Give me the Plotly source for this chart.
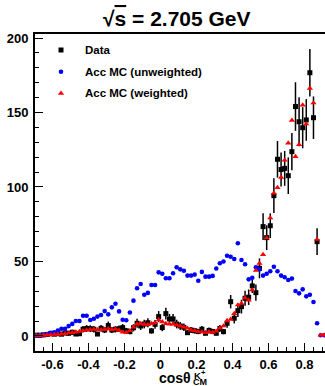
import numpy as np
import plotly.graph_objects as go

# ---- data (bin centres, width 0.02) ----
bin_centers = np.round(np.arange(-0.69, 0.92, 0.02), 2)

data_vals = [0.5, 0.5, 0.7, 1, 1.5, 1.2, 1.5, 1.2, 2, 1.8, 2.5, 1.3, 1.5, 4.5, 5, 4.9, 4.5, 1.3, 5.1, 4,
             7, 4, 4.5, 4.8, 5.6, 3.5, 2.9, 5.5, 8.5, 6.7, 8, 8.9, 3.4, 7.8, 13, 5.6, 15, 11.4, 11.4, 8,
             6.7, 5.8, 2.2, 4, 3.5, 3, 4.5, 1.8, 3.7, 3, 1.8, 5, 2.9, 8.5, 23, 11.9, 17, 19.7, 25.3, 26,
             33.6, 29.1, 45.4, 73.4, 66, 74, 94.2, 118.6, 111.7, 112.5, 107.6, 123.7, 154, 143.8, 139.8, 145, 176.7, 146.5, 63.3, None,
             None]
data_err = [0.8, 0.8, 1, 1, 1.3, 1.2, 1.3, 1.2, 1.5, 1.5, 1.7, 1.2, 1.3, 2.2, 2.3, 2.3, 2.2, 1.2, 2.3, 2,
            2.7, 2, 2.2, 2.2, 2.4, 1.9, 1.8, 2.4, 3, 2.7, 2.9, 3, 1.9, 2.9, 3.7, 2.4, 3.9, 3.4, 3.4, 2.9,
            2.6, 2.5, 1.5, 2, 1.9, 1.8, 2.2, 1.4, 2, 1.8, 1.4, 2.3, 1.8, 3, 4.5, 3.5, 4.3, 4.6, 5, 5.2,
            4.8, 5.5, 6.7, 9, 8.3, 8.3, 11.6, 12.3, 11.4, 11.7, 12.3, 12.5, 16.3, 16.5, 13.8, 14, 15.9, 14.3, 9, 0,
            0]
mc_unweighted = [0.3, 0.3, 0.7, 1.3, 2.2, 2.5, 3.6, 4.8, 4.8, 6.6, 8.1, 10, 10, 13.6, 13.6, 10.7, 11.5, 13, 14.1, 16.7,
                 14.5, 19.2, 21.6, 16.5, 10.9, 10.5, 15.7, 23.7, 32, 34.9, 27.7, 28.9, 34.2, 34.2, 42.7, 41.8, 38.7, 38.7, 42.1, 46.1,
                 44.7, 43.8, 40.5, 40.5, 41.2, 37.1, 43, 39.8, 39.8, 40.3, 45.3, 48.8, 50, 53.8, 53.2, 51.7, 62.2, 51, 48.1, 38,
                 39.1, 46.1, 44.7, 40.5, 41.8, 43.4, 46.5, 43.4, 40.5, 39.4, 37.6, 38.5, 30.2, 28.6, 31.3, 26.6, 27.7, 22.8, 8.5, 0.5,
                 0.5]
mc_weighted = [0.3, 0.3, 0.5, 0.6, 0.8, 1, 1.1, 1.3, 1.6, 2, 2.3, 2.6, 3, 3.5, 4, 4.2, 4.5, 4.2, 4.2, 4.5,
               4.8, 4.3, 4.6, 3.8, 2.5, 2.4, 3.5, 6, 8, 8.3, 7.8, 7.6, 8.3, 8.7, 10.8, 9.5, 8.3, 8, 8, 7.4,
               6.6, 6, 5.2, 4, 3.6, 2.9, 2.7, 2.2, 2.8, 2.4, 3.2, 5.2, 6.7, 10.2, 11.2, 15, 20.8, 21.8, 25.5, 24,
               30.9, 44, 48.8, 54.6, 65.8, 79.2, 95.8, 99.6, 106.5, 118, 129.5, 144.8, 120.4, 128.5, 155, 142.3, 166.2, 156.4, 64.8, 0.5,
               0.5]

legend_labels = ["Data", "Acc MC (unweighted)", "Acc MC (weighted)"]
x_ticks = [-0.6, -0.4, -0.2, 0, 0.2, 0.4, 0.6, 0.8]
x_ticktext = ["-0.6", "-0.4", "-0.2", "0", "0.2", "0.4", "0.6", "0.8"]
y_ticks = [0, 50, 100, 150, 200]

W, H = 325, 386
ML, MR, MT, MB = 35, 0, 34, 35
PW, PH = W - ML - MR, H - MT - MB

def px_x(px):
    return (px - ML) / PW

def px_y(py):
    return (H - MB - py) / PH

FONT = "Liberation Sans, Arial, sans-serif"

fig = go.Figure()

fig.add_trace(go.Scatter(
    x=bin_centers, y=data_vals, mode="markers", name=legend_labels[0],
    marker=dict(symbol="square", size=5, color="black"),
    error_y=dict(type="data", array=data_err, visible=True, width=0, thickness=1.5, color="black"),
    showlegend=False, cliponaxis=True))
fig.add_trace(go.Scatter(
    x=bin_centers, y=mc_unweighted, mode="markers", name=legend_labels[1],
    marker=dict(symbol="circle", size=4.6, color="#0000ff"),
    showlegend=False))
fig.add_trace(go.Scatter(
    x=bin_centers, y=mc_weighted, mode="markers", name=legend_labels[2],
    marker=dict(symbol="triangle-up", size=5.5, color="#ff0000"),
    showlegend=False))

# legend symbols on an invisible overlay axis (0..1 of the plot area)
leg_y_px = [50, 71.7, 93.3]
leg_sym = ["square", "circle", "triangle-up"]
leg_col = ["black", "#0000ff", "#ff0000"]
leg_size = [5, 4.6, 5.5]
for i in range(3):
    fig.add_trace(go.Scatter(
        x=[px_x(61)], y=[px_y(leg_y_px[i])], xaxis="x2", yaxis="y2", mode="markers",
        marker=dict(symbol=leg_sym[i], size=leg_size[i], color=leg_col[i]),
        showlegend=False, hoverinfo="skip"))

annotations = []
for i in range(3):
    annotations.append(dict(
        x=px_x(83), y=px_y(leg_y_px[i]), xref="paper", yref="paper",
        text=legend_labels[i], showarrow=False, xanchor="left", yanchor="middle",
        font=dict(family=FONT, size=11.5, color="black", weight="bold")))

# title
annotations.append(dict(
    x=px_x(177), y=px_y(18), xref="paper", yref="paper",
    text="√<span style='text-decoration:overline'>s</span> = 2.705 GeV",
    showarrow=False, xanchor="center", yanchor="middle",
    font=dict(family=FONT, size=21, color="black", weight="bold")))

# x-axis title
annotations.append(dict(
    x=px_x(192), y=px_y(378), xref="paper", yref="paper", text="cosθ",
    showarrow=False, xanchor="right", yanchor="middle", borderpad=0,
    font=dict(family=FONT, size=14, color="black", weight="bold")))
annotations.append(dict(
    x=px_x(192.5), y=px_y(375), xref="paper", yref="paper", text="K",
    showarrow=False, xanchor="left", yanchor="middle", borderpad=0,
    font=dict(family=FONT, size=9.5, color="black", weight="bold")))
annotations.append(dict(
    x=px_x(199.5), y=px_y(372), xref="paper", yref="paper", text="+",
    showarrow=False, xanchor="left", yanchor="middle", borderpad=0,
    font=dict(family=FONT, size=7.5, color="black", weight="bold")))
annotations.append(dict(
    x=px_x(192), y=px_y(382), xref="paper", yref="paper", text="CM",
    showarrow=False, xanchor="left", yanchor="middle", borderpad=0,
    font=dict(family=FONT, size=9, color="black", weight="bold")))

fig.update_layout(
    width=W, height=H,
    margin=dict(l=ML, r=MR, t=MT, b=MB, pad=0),
    paper_bgcolor="white", plot_bgcolor="white",
    showlegend=False,
    annotations=annotations,
    xaxis=dict(
        range=[-0.697, 0.914], tickvals=x_ticks, ticktext=x_ticktext,
        ticks="inside", ticklen=8, tickwidth=1, tickcolor="black",
        showline=True, linewidth=2, linecolor="black", mirror=True,
        showgrid=False, zeroline=False,
        minor=dict(dtick=0.05, tick0=0, ticks="inside", ticklen=4, tickcolor="black", tickwidth=1, showgrid=False),
        tickfont=dict(family=FONT, size=13, color="black", weight="bold"),
    ),
    yaxis=dict(
        range=[-10.1, 202.7], tickvals=y_ticks,
        ticks="inside", ticklen=8, tickwidth=1, tickcolor="black",
        showline=True, linewidth=2, linecolor="black", mirror=False,
        showgrid=False, zeroline=False,
        minor=dict(dtick=10, tick0=0, ticks="inside", ticklen=4, tickcolor="black", tickwidth=1, showgrid=False),
        tickfont=dict(family=FONT, size=13, color="black", weight="bold"),
        ticklabelstandoff=2,
    ),
    xaxis2=dict(overlaying="x", range=[0, 1], visible=False, fixedrange=True),
    yaxis2=dict(overlaying="y", range=[0, 1], visible=False, fixedrange=True),
)

fig.write_html("out.html")
